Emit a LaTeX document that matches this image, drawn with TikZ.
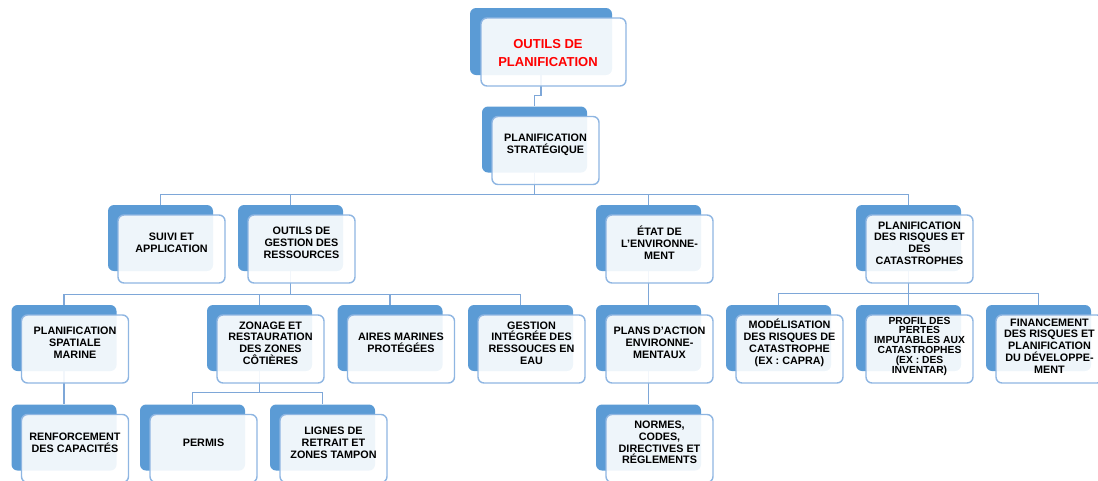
\documentclass[tikz,border=0pt]{standalone}
\usepackage{fontspec}
\setmainfont{Liberation Sans}
\usetikzlibrary{backgrounds}

\definecolor{kastenblau}{RGB}{91,155,213}
\definecolor{randblau}{RGB}{143,182,226}
\definecolor{linienblau}{RGB}{126,167,216}

\tikzset{
  hinten/.style={rectangle, rounded corners=6pt, fill=kastenblau,
    minimum width=105pt, minimum height=66pt, inner sep=0pt},
  vorne/.style={rectangle, rounded corners=6pt, draw=randblau, line width=1.4pt,
    fill=white, fill opacity=0.9, minimum width=107pt, minimum height=68pt, inner sep=0pt},
  schrift/.style={align=center, inner sep=0pt, font=\bfseries\fontsize{10.8}{11.8}\selectfont},
  linie/.style={draw=linienblau, line width=1.3pt}
}

% Kasten: hinten blau, vorne hell, Text darauf
\newcommand{\kasten}[4][]{%
  \node[hinten] (#2) at (#3) {};
  \node[vorne] (#2-v) at ([shift={(11,11)}]#2.center) {};
  \node[schrift,#1] (#2-t) at ([shift={(11,5)}]#2.center) {#4};
}

\begin{document}
\begin{tikzpicture}[x=1pt,y=-1pt]
			\useasboundingbox (0,0) rectangle (1098,480);

			% Wurzel
			\node[hinten, minimum width=142pt, minimum height=67pt] (outils) at (541,41.5) {};
			\node[vorne, minimum width=145pt] (outils-v) at ([shift={(12.5,10.5)}]outils.center) {};
			\node[schrift, text=red, font=\bfseries\fontsize{13}{18}\selectfont] (outils-t)
				at ([shift={(7,11.5)}]outils.center) {OUTILS DE\\PLANIFICATION};

			% Ebene 1
			\kasten{strategie}{534.5,139.5}{PLANIFICATION\\STRATÉGIQUE}

			% Ebene 2
			\kasten{suivi}{160.5,238}{SUIVI ET\\APPLICATION}
			\kasten{gestion}{290.5,238}{OUTILS DE\\GESTION DES\\RESSOURCES}
			\kasten{etat}{648.5,238}{ÉTAT DE\\L’ENVIRONNE-\\MENT}
			\kasten{risques}{908.5,238}{PLANIFICATION\\DES RISQUES ET\\DES\\CATASTROPHES}

			% Ebene 3
			\kasten{spatiale}{64,338}{PLANIFICATION\\SPATIALE\\MARINE}
			\kasten{zonage}{259.5,338}{ZONAGE ET\\RESTAURATION\\DES ZONES\\CÔTIÈRES}
			\kasten{aires}{390,338}{AIRES MARINES\\PROTÉGÉES}
			\kasten{eau}{520.5,338}{GESTION\\INTÉGRÉE DES\\RESSOUCES EN\\EAU}
			\kasten{plans}{648.5,338}{PLANS D’ACTION\\ENVIRONNE-\\MENTAUX}
			\kasten{modele}{778.5,338}{MODÉLISATION\\DES RISQUES DE\\CATASTROPHE\\(EX : CAPRA)}
			\kasten[font=\bfseries\fontsize{10.3}{9.8}\selectfont, yshift=-3pt]{profil}{908.5,338}%
				{PROFIL DES\\PERTES\\IMPUTABLES AUX\\CATASTROPHES\\(EX : DES\\INVENTAR)}
			\kasten[yshift=-3pt]{finance}{1038.5,338}{FINANCEMENT\\DES RISQUES ET\\PLANIFICATION\\DU DÉVELOPPE-\\MENT}

			% Ebene 4
			\kasten{renfor}{64,437.5}{RENFORCEMENT\\DES CAPACITÉS}
			\kasten{permis}{192.5,437.5}{PERMIS}
			\kasten{lignes}{322.5,437.5}{LIGNES DE\\RETRAIT ET\\ZONES TAMPON}
			\kasten{normes}{648.5,437.5}{NORMES,\\CODES,\\DIRECTIVES ET\\RÉGLEMENTS}

			% Verbindungen
			\begin{scope}[on background layer]
				\draw[linie] (outils.south) -- ++(0,20) -| (strategie.north);
				\foreach \k in {suivi,gestion,etat,risques}
					\draw[linie] (strategie.south) -- ++(0,22) -| (\k.north);
				\foreach \k in {spatiale,zonage,aires,eau}
					\draw[linie] (gestion.south) -- ++(0,23) -| (\k.north);
				\draw[linie] (etat.south) -- (plans.north);
				\foreach \k in {modele,profil,finance}
					\draw[linie] (risques.south) -- ++(0,22) -| (\k.north);
				\draw[linie] (spatiale.south) -- (renfor.north);
				\foreach \k in {permis,lignes}
					\draw[linie] (zonage.south) -- ++(0,21) -| (\k.north);
				\draw[linie] (plans.south) -- (normes.north);
			\end{scope}
	\end{tikzpicture}
\end{document}
